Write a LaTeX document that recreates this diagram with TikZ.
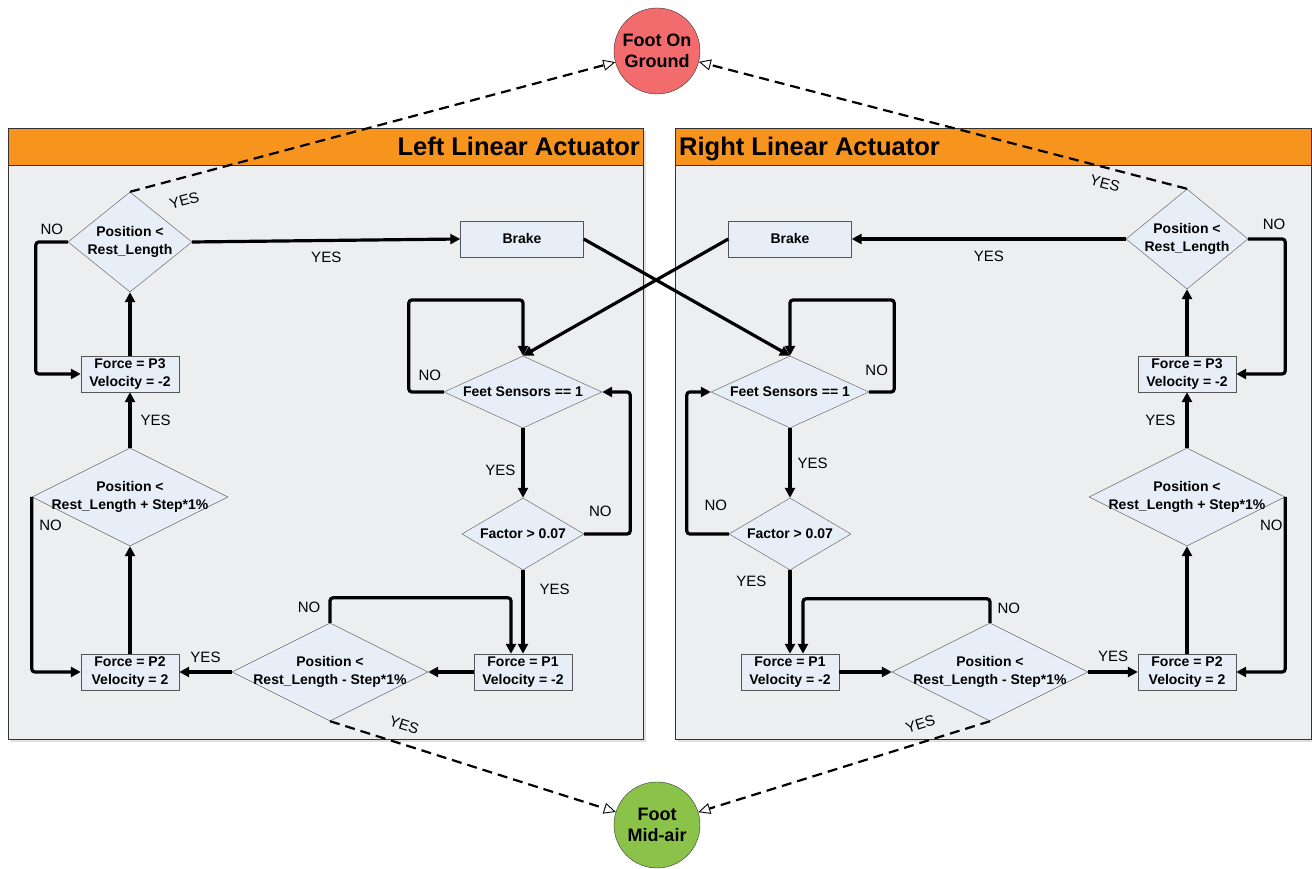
\documentclass[tikz,border=0pt]{standalone}
\usepackage{fontspec}
\setmainfont{Liberation Sans}
\usetikzlibrary{shapes.geometric,arrows.meta,positioning}

\definecolor{headorange}{HTML}{F7941D}
\definecolor{panelgray}{HTML}{EDEEF0}
\definecolor{nodefill}{HTML}{E8EEF7}
\definecolor{nodeline}{HTML}{555555}
\definecolor{groundred}{HTML}{F26B6D}
\definecolor{airgreen}{HTML}{8BC34A}

\begin{document}
\begin{tikzpicture}[x=1pt, y=1pt]
    \tikzstyle{box} = [rectangle, draw=nodeline, fill=nodefill, minimum width=98, minimum height=36, inner sep=0pt, align=center, font=\fontsize{14}{17.5}\selectfont\bfseries]
    \tikzstyle{dtext} = [align=center, inner sep=0pt, font=\fontsize{14}{17.5}\selectfont\bfseries]
    \tikzstyle{decision} = [diamond, draw=nodeline, fill=nodefill, inner sep=0pt]
    \tikzstyle{footstate} = [circle, draw=black!80, minimum size=86, inner sep=0pt, align=center, font=\fontsize{18}{21.5}\selectfont\bfseries]
    \tikzstyle{flow} = [line width=3.2pt, rounded corners=3pt, -{Triangle[length=10pt, width=10pt]}]
    \tikzstyle{jump} = [line width=2.2pt, dash pattern=on 10pt off 6pt, -{Triangle[open, length=12pt, width=11pt, line width=0.9pt]}]
    \tikzstyle{lbl} = [inner sep=0pt, font=\fontsize{15}{17}\selectfont]
    \tikzstyle{panel} = [draw=black!80, fill=panelgray, line width=0.8pt]
    \tikzstyle{header} = [draw=black!80, fill=headorange, line width=0.8pt]
    \tikzstyle{title} = [inner sep=0pt, font=\fontsize{25.5}{30}\selectfont\bfseries]

    \useasboundingbox (0,0) rectangle (1312,869);

    % panels
    \fill [black!12] (11,127) rectangle (646,738);
    \fill [black!12] (678,127) rectangle (1314,738);
    \draw [panel] (8,130) rectangle (643,741);
    \draw [header] (8,704) rectangle (643,741);
    \draw [panel] (675,130) rectangle (1311,741);
    \draw [header] (675,704) rectangle (1311,741);
    \node [title, anchor=base east] (ltitle) at (640,713) {Left Linear Actuator};
    \node [title, anchor=base west] (rtitle) at (679,713) {Right Linear Actuator};

    % left actuator
    \node [decision, minimum width=124, minimum height=100, label={[dtext]center:Position <\\Rest\_Length}] (lrest) at (130,627) {};
    \node [box, below of=lrest, node distance=132pt] (lp3) {Force = P3\\Velocity = -2};
    \node [decision, minimum width=196, minimum height=98, label={[dtext]center:Position <\\Rest\_Length + Step*1\%}, below of=lp3, node distance=123pt] (lplus) {};
    \node [box, below of=lplus, node distance=175pt] (lp2) {Force = P2\\Velocity = 2};
    \node [decision, minimum width=196, minimum height=98, label={[dtext]center:Position <\\Rest\_Length - Step*1\%}, right of=lp2, node distance=200pt] (lminus) {};
    \node [box, right of=lminus, node distance=193pt] (lp1) {Force = P1\\Velocity = -2};
    \node [decision, minimum width=122, minimum height=72, label={[dtext]center:Factor > 0.07}, above of=lp1, node distance=138pt] (lfactor) {};
    \node [decision, minimum width=158, minimum height=72, label={[dtext]center:Feet Sensors == 1}, above of=lfactor, node distance=142pt] (lfeet) {};
    \node [box, minimum width=123] (lbrake) at (522,630) {Brake};

    % right actuator
    \node [decision, minimum width=122, minimum height=100, label={[dtext]center:Position <\\Rest\_Length}] (rrest) at (1187,630) {};
    \node [box, below of=rrest, node distance=135pt] (rp3) {Force = P3\\Velocity = -2};
    \node [decision, minimum width=196, minimum height=98, label={[dtext]center:Position <\\Rest\_Length + Step*1\%}, below of=rp3, node distance=123pt] (rplus) {};
    \node [box, below of=rplus, node distance=175pt] (rp2) {Force = P2\\Velocity = 2};
    \node [decision, minimum width=196, minimum height=98, label={[dtext]center:Position <\\Rest\_Length - Step*1\%}, left of=rp2, node distance=197pt] (rminus) {};
    \node [box, left of=rminus, node distance=200pt] (rp1) {Force = P1\\Velocity = -2};
    \node [decision, minimum width=122, minimum height=72, label={[dtext]center:Factor > 0.07}, above of=rp1, node distance=138pt] (rfactor) {};
    \node [decision, minimum width=158, minimum height=72, label={[dtext]center:Feet Sensors == 1}, above of=rfactor, node distance=142pt] (rfeet) {};
    \node [box, minimum width=123] (rbrake) at (790,630) {Brake};

    % foot states
    \node [footstate, fill=groundred] (ground) at (657,818) {Foot On\\Ground};
    \node [footstate, fill=airgreen] (midair) at (657,44) {Foot\\Mid-air};

    % left connectors
    \draw [flow] (lrest.east) -- node[lbl, below=10pt] {YES} (lbrake.west);
    \draw [flow] (lrest.west) -- node[lbl, above=6pt] {NO} ++(-32,0) |- (lp3.west);
    \draw [flow] (lp3.north) -- (lrest.south);
    \draw [flow] (lplus.north) -- node[lbl, right=9pt] {YES} (lp3.south);
    \draw [flow] (lplus.west) |- node[lbl, pos=0.08, right=6pt] {NO} (lp2.west);
    \draw [flow] (lp2.north) -- (lplus.south);
    \draw [flow] (lminus.west) -- node[lbl, above=8pt] {YES} (lp2.east);
    \draw [flow] (lp1.west) -- (lminus.east);
    \draw [flow] (lminus.north) -- node[lbl, pos=0.6, left=8pt] {NO} ++(0,25) -| ([xshift=-12pt]lp1.north);
    \draw [flow] (lfactor.south) -- node[lbl, pos=0.23, right=15pt] {YES} (lp1.north);
    \draw [flow] (lfeet.south) -- node[lbl, pos=0.6, left=6pt] {YES} (lfactor.north);
    \draw [flow] (lfactor.east) -- node[lbl, pos=0.35, above=16pt] {NO} ++(46,0) |- (lfeet.east);
    \draw [flow] (lfeet.west) -- node[lbl, pos=0.4, above=10pt] {NO} ++(-35,0) -- ++(0,92) -| (lfeet.north);

    % right connectors
    \draw [flow] (rrest.west) -- node[lbl, below=10pt] {YES} (rbrake.east);
    \draw [flow] (rrest.east) -- node[lbl, pos=0.7, above=8pt] {NO} ++(37,0) |- (rp3.east);
    \draw [flow] (rp3.north) -- (rrest.south);
    \draw [flow] (rplus.north) -- node[lbl, left=10pt] {YES} (rp3.south);
    \draw [flow] (rplus.east) |- node[lbl, pos=0.08, left=1pt] {NO} (rp2.east);
    \draw [flow] (rp2.north) -- (rplus.south);
    \draw [flow] (rminus.east) -- node[lbl, above=9pt] {YES} (rp2.west);
    \draw [flow] (rp1.east) -- (rminus.west);
    \draw [flow] (rminus.north) -- node[lbl, pos=0.6, right=6pt] {NO} ++(0,24) -| ([xshift=13pt]rp1.north);
    \draw [flow] (rfactor.south) -- node[lbl, pos=0.13, left=22pt] {YES} (rp1.north);
    \draw [flow] (rfeet.south) -- node[lbl, right=6pt] {YES} (rfactor.north);
    \draw [flow] (rfactor.west) -- node[lbl, pos=0.31, above=22pt] {NO} ++(-42,0) |- (rfeet.west);
    \draw [flow] (rfeet.east) -- node[lbl, pos=0.3, above=15pt] {NO} ++(25,0) -- ++(0,92) -| (rfeet.north);

    % brakes cross over
    \draw [flow] (lbrake.east) -- (rfeet.north);
    \draw [flow] (rbrake.west) -- (lfeet.north);

    % to foot states
    \draw [jump] (lrest.north) -- node[lbl, sloped, pos=0.1, below=16pt] {YES} (ground);
    \draw [jump] (rrest.north) -- node[lbl, sloped, pos=0.16, below=9pt] {YES} (ground);
    \draw [jump] (lminus.south) -- node[lbl, sloped, pos=0.24, above=12pt] {YES} (midair);
    \draw [jump] (rminus.south) -- node[lbl, sloped, pos=0.22, above=12pt] {YES} (midair);
\end{tikzpicture}
\end{document}
